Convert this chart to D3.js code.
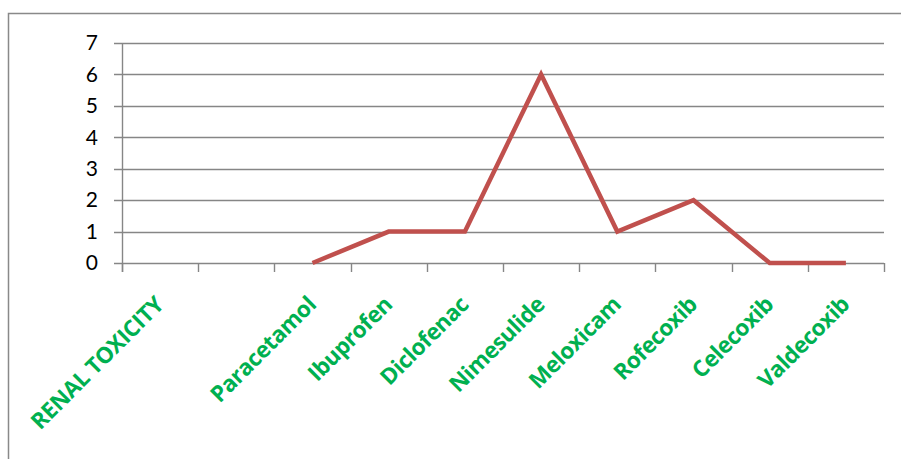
<!DOCTYPE html>
<html>
<head>
<meta charset="utf-8">
<script src="https://cdn.jsdelivr.net/npm/d3@7"></script>
<style>
  html, body { margin: 0; padding: 0; background: #fff; }
  svg { display: block; }
</style>
</head>
<body>
<svg id="chart" width="901" height="459"></svg>
<script>
const categories = ["RENAL TOXICITY", "", "Paracetamol", "Ibuprofen", "Diclofenac", "Nimesulide", "Meloxicam", "Rofecoxib", "Celecoxib", "Valdecoxib"];
const values = [null, null, 0, 1, 1, 6, 1, 2, 0, 0];
const yTicks = [0, 1, 2, 3, 4, 5, 6, 7];

const svg = d3.select("#chart");
const plotLeft = 122, plotRight = 884, plotTop = 43, plotBottom = 263;

// outer chart border (extends beyond the picture)
svg.append("rect")
  .attr("x", 8.5).attr("y", 13.5)
  .attr("width", 1000).attr("height", 1000)
  .attr("fill", "none").attr("stroke", "#898989").attr("stroke-width", 1.5);

const x = d3.scaleBand().domain(d3.range(categories.length)).range([plotLeft, plotRight]).paddingInner(0).paddingOuter(0);
const y = d3.scaleLinear().domain([0, 7]).range([plotBottom, plotTop]);

const gridColor = "#868686";

// horizontal gridlines
svg.append("g").selectAll("line").data(yTicks).join("line")
  .attr("x1", plotLeft - 8).attr("x2", plotRight)
  .attr("y1", d => Math.round(y(d)) + 0.5).attr("y2", d => Math.round(y(d)) + 0.5)
  .attr("stroke", gridColor).attr("stroke-width", 1.4);

// y axis line
svg.append("line")
  .attr("x1", plotLeft + 0.5).attr("x2", plotLeft + 0.5)
  .attr("y1", plotTop).attr("y2", plotBottom + 9)
  .attr("stroke", gridColor).attr("stroke-width", 1.4);

// x tick marks at category boundaries
const bounds = d3.range(categories.length + 1).map(i => i === categories.length ? plotRight : x(i));
svg.append("g").selectAll("line").data(bounds).join("line")
  .attr("x1", d => Math.round(d) + 0.5).attr("x2", d => Math.round(d) + 0.5)
  .attr("y1", plotBottom).attr("y2", plotBottom + 9)
  .attr("stroke", gridColor).attr("stroke-width", 1.4);

// y labels
svg.append("g").selectAll("text").data(yTicks).join("text")
  .attr("x", 98).attr("y", d => y(d))
  .attr("dy", "0.35em")
  .attr("text-anchor", "end")
  .attr("font-family", "Lato, 'Open Sans', sans-serif")
  .attr("font-size", 21)
  .attr("fill", "#000")
  .text(d => d);

// x labels rotated
svg.append("g").selectAll("text").data(categories).join("text")
  .attr("transform", (d, i) => `translate(${x(i) + x.bandwidth() / 2 + 5},${306}) rotate(-45)`)
  .attr("text-anchor", "end")
  .attr("font-family", "'Open Sans', sans-serif")
  .attr("font-weight", "bold")
  .attr("font-size", 22.5)
  .attr("letter-spacing", -0.4)
  .attr("fill", "#00B050")
  .text(d => d);

// line
const line = d3.line()
  .defined(d => d != null)
  .x((d, i) => x(i) + x.bandwidth() / 2)
  .y(d => y(d));

svg.append("path")
  .datum(values)
  .attr("d", line)
  .attr("fill", "none")
  .attr("stroke", "#C0504D")
  .attr("stroke-width", 4.5)
  .attr("stroke-linejoin", "miter");
</script>
</body>
</html>
